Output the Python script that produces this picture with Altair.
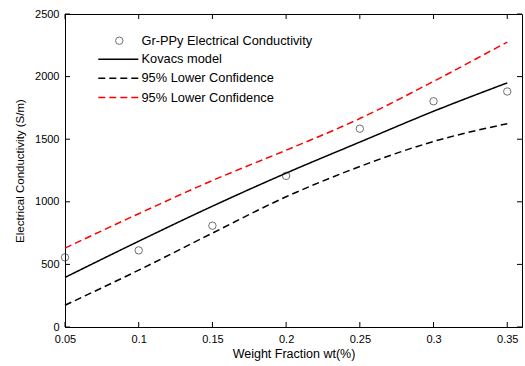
import altair as alt
import pandas as pd

# ---- data ----
x_vals = [0.05, 0.10, 0.15, 0.20, 0.25, 0.30, 0.35]
measured = [556, 612, 809, 1207, 1584, 1803, 1881]
kovacs = [396, 685, 965, 1229, 1477, 1723, 1950]
lower = [174, 454, 750, 1040, 1282, 1482, 1624]
upper = [630, 905, 1170, 1412, 1665, 1962, 2276]

series_names = ["Kovacs model", "95% Lower (black)", "95% Lower (red)"]
legend_labels = ["Gr-PPy Electrical Conductivity", "Kovacs model",
                 "95% Lower Confidence", "95% Lower Confidence"]
x_ticks = [0.05, 0.10, 0.15, 0.20, 0.25, 0.30, 0.35]
y_ticks = [0, 500, 1000, 1500, 2000, 2500]

W, H = 457, 313
FONT = "Liberation Sans"

pts = pd.DataFrame({"x": x_vals, "y": measured})
rows = []
for name, vals in zip(series_names, [kovacs, lower, upper]):
    for xv, yv in zip(x_vals, vals):
        rows.append({"x": xv, "y": yv, "s": name})
lines_df = pd.DataFrame(rows)
xt = pd.DataFrame({"t": x_ticks})
yt = pd.DataFrame({"t": y_ticks})

xs = alt.Scale(domain=[0.05, 0.36], nice=False, zero=False)
ys = alt.Scale(domain=[0, 2500], nice=False)

x_axis = alt.Axis(values=x_ticks, format=".2~f", ticks=False, grid=False,
                  labelFlush=False, labelPadding=6, title="Weight Fraction wt(%)",
                  titlePadding=3, titleFontSize=12.5)
y_axis = alt.Axis(values=y_ticks, format="d", ticks=False, grid=False,
                  labelFlush=False, labelPadding=6,
                  title="Electrical Conductivity (S/m)", titlePadding=9,
                  titleFontSize=11.5)

lines = alt.Chart(lines_df).mark_line(strokeWidth=1.5, interpolate="monotone").encode(
    x=alt.X("x:Q", scale=xs, axis=x_axis),
    y=alt.Y("y:Q", scale=ys, axis=y_axis),
    color=alt.Color("s:N", scale=alt.Scale(domain=series_names,
                                           range=["black", "black", "#ff0000"]),
                    legend=None),
    strokeDash=alt.StrokeDash("s:N", scale=alt.Scale(domain=series_names,
                                                     range=[[1, 0], [7, 4], [7, 4]]),
                              legend=None),
    detail="s:N",
)

points = alt.Chart(pts).mark_point(shape="circle", size=55, filled=False,
                                   color="#333333", strokeWidth=1).encode(
    x=alt.X("x:Q", scale=xs),
    y=alt.Y("y:Q", scale=ys),
)

tick_style = dict(color="black", strokeWidth=1)
bottom_ticks = alt.Chart(xt).mark_rule(**tick_style).encode(
    x=alt.X("t:Q", scale=xs), y=alt.value(H), y2=alt.value(H - 5))
top_ticks = alt.Chart(xt).mark_rule(**tick_style).encode(
    x=alt.X("t:Q", scale=xs), y=alt.value(0), y2=alt.value(5))
left_ticks = alt.Chart(yt).mark_rule(**tick_style).encode(
    y=alt.Y("t:Q", scale=ys), x=alt.value(0), x2=alt.value(5))
right_ticks = alt.Chart(yt).mark_rule(**tick_style).encode(
    y=alt.Y("t:Q", scale=ys), x=alt.value(W), x2=alt.value(W - 5))

# ---- manual legend (inside plot, upper left) ----
leg_rows_y = [26.7, 45.3, 64.3, 83.5]
lx0, lx1, ltx = 33.3, 73.3, 76.5
one = pd.DataFrame({"a": [0]})
leg = []
leg.append(alt.Chart(one).mark_point(shape="circle", size=55, filled=False,
                                     color="#333333", strokeWidth=1).encode(
    x=alt.value(54.3), y=alt.value(leg_rows_y[0])))
leg.append(alt.Chart(one).mark_rule(color="black", strokeWidth=1.5).encode(
    x=alt.value(lx0), x2=alt.value(lx1), y=alt.value(leg_rows_y[1])))
leg.append(alt.Chart(one).mark_rule(color="black", strokeWidth=1.5,
                                    strokeDash=[7, 4]).encode(
    x=alt.value(lx0), x2=alt.value(lx1), y=alt.value(leg_rows_y[2])))
leg.append(alt.Chart(one).mark_rule(color="#ff0000", strokeWidth=1.5,
                                    strokeDash=[7, 4]).encode(
    x=alt.value(lx0), x2=alt.value(lx1), y=alt.value(leg_rows_y[3])))
for lab, yy in zip(legend_labels, leg_rows_y):
    leg.append(alt.Chart(one).mark_text(text=lab, align="left", baseline="middle",
                                        font=FONT, fontSize=12.8, color="black").encode(
        x=alt.value(ltx), y=alt.value(yy)))

chart = alt.layer(points, lines, bottom_ticks, top_ticks, left_ticks, right_ticks,
                  *leg).properties(
    width=W, height=H,
    autosize=alt.AutoSizeParams(type="none"),
    padding={"left": 65, "top": 14, "right": 3, "bottom": 39},
    background="white",
).configure_view(stroke="black", strokeWidth=1).configure_axis(
    domainColor="black", labelColor="black", titleColor="black",
    labelFont=FONT, titleFont=FONT, labelFontSize=11,
    titleFontWeight="normal",
)

chart.save("out.html", embed_options={"renderer": "svg", "actions": False})
